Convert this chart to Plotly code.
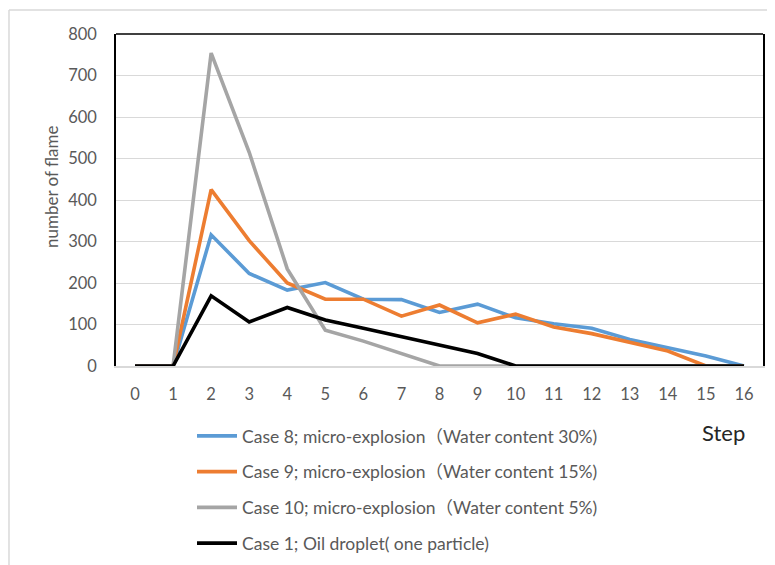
import plotly.graph_objects as go

steps = list(range(17))
step_labels = [str(s) for s in steps]

case8 = [0, 0, 316, 223, 183, 201, 161, 160, 129, 149, 116, 102, 91, 64, 44, 24, 0]
case9 = [0, 0, 425, 302, 200, 161, 161, 120, 147, 104, 125, 94, 78, 58, 36, 0, 0]
case10 = [0, 0, 754, 515, 234, 86, 60, 31, 0, 0, 0, 0, 0, 0, 0, 0, 0]
case1 = [0, 0, 169, 106, 141, 111, 91, 70, 50, 30, 0, 0, 0, 0, 0, 0, 0]

series_names = [
    "Case 8; micro-explosion（Water content 30%)",
    "Case 9; micro-explosion（Water content 15%)",
    "Case 10; micro-explosion（Water content 5%)",
    "Case 1; Oil droplet( one particle)",
]
series_values = [case8, case9, case10, case1]
series_colors = ["#5B9BD5", "#ED7D31", "#A5A5A5", "#000000"]

font_family = "Lato, 'Noto Sans', 'Noto Sans CJK JP', sans-serif"

fig = go.Figure()
for i, (name, vals, col) in enumerate(zip(series_names, series_values, series_colors)):
    fig.add_trace(go.Scatter(
        x=step_labels, y=vals, name=name, mode="lines",
        line=dict(color=col, width=3.6),
        legendgroup=f"g{i}",
    ))

fig.update_layout(
    width=767, height=557,
    margin=dict(l=108, r=12, t=26, b=199, autoexpand=False),
    paper_bgcolor="white", plot_bgcolor="white",
    font=dict(family=font_family, color="#595959", size=16),
    showlegend=True,
    legend=dict(
        xref="container", yref="container",
        x=0.2399, y=0.2639, xanchor="left", yanchor="top",
        font=dict(size=17.5, color="#595959"),
        traceorder="grouped", tracegroupgap=10,
        itemwidth=40,
        bgcolor="rgba(0,0,0,0)",
    ),
    xaxis=dict(
        type="category", range=[-0.5, 16.5],
        showgrid=False, showline=True, linecolor="#D9D9D9", linewidth=1.5,
        ticks="", ticklabelstandoff=12,
        tickfont=dict(size=16.5, color="#595959"),
        fixedrange=True,
    ),
    yaxis=dict(
        range=[0, 800], dtick=100, tick0=0,
        showgrid=True, gridcolor="#D9D9D9", gridwidth=1,
        zeroline=False,
        showline=True, linecolor="#000000", linewidth=1.5, mirror=True,
        ticks="", ticklabelstandoff=14,
        tickfont=dict(size=16.5, color="#595959"),
    ),
    annotations=[
        dict(
            text="Step", xref="paper", yref="paper", x=0.9397, y=-0.2018,
            xanchor="center", yanchor="middle", showarrow=False,
            font=dict(size=22, color="#262626"),
        ),
        dict(
            text="number of flame", xref="paper", yref="paper", x=-0.1005, y=0.542,
            xanchor="center", yanchor="middle", showarrow=False, textangle=-90,
            font=dict(size=17, color="#595959"),
        ),
    ],
    shapes=[
        dict(type="line", xref="paper", yref="paper", x0=0, x1=1, y0=1, y1=1,
             line=dict(color="#000000", width=1.5)),
        dict(type="line", xref="paper", yref="paper", x0=-0.1654, x1=1.1, y0=1.0723, y1=1.0723,
             line=dict(color="#D9D9D9", width=1.5)),
        dict(type="line", xref="paper", yref="paper", x0=-0.1654, x1=-0.1654, y0=1.0723, y1=-0.7,
             line=dict(color="#D9D9D9", width=1.5)),
    ],
)

fig.write_html("out.html")
